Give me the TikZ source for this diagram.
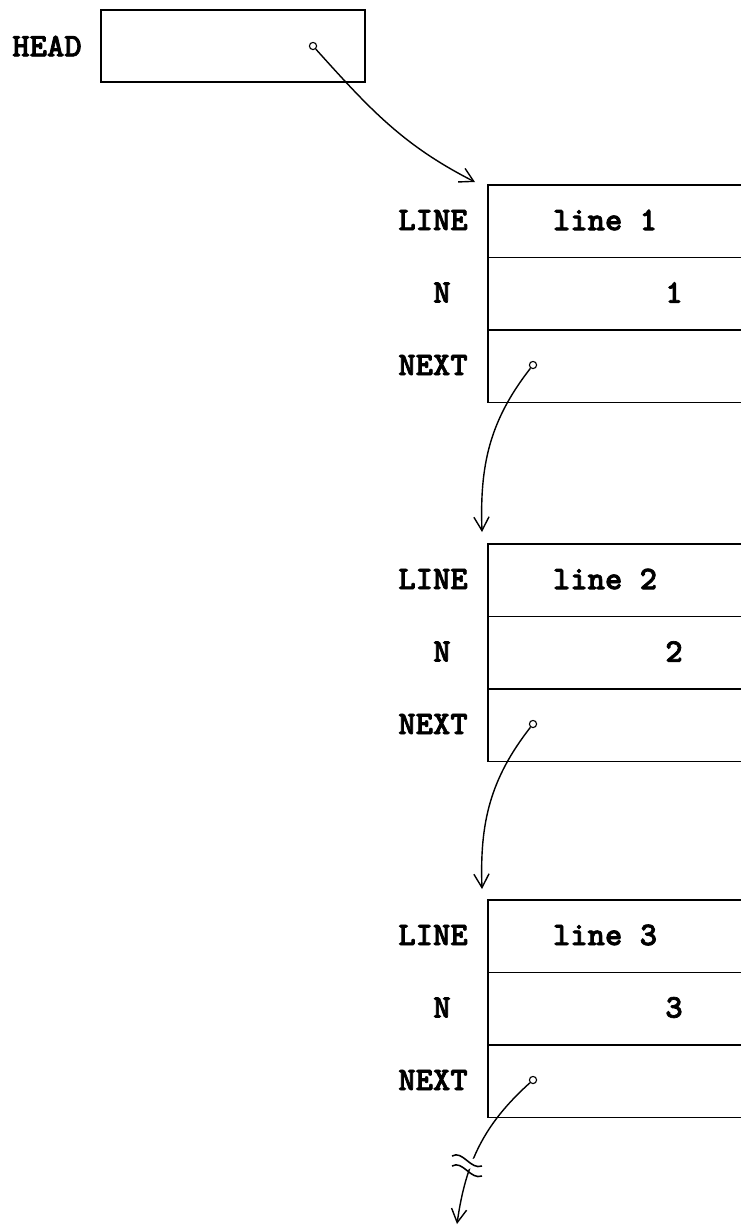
\documentclass[tikz,border=0pt]{standalone}
\usepackage{fontspec}
\newfontfamily\recfont{lmmonolt10-bold.otf}[FakeBold=2.2]
\usetikzlibrary{arrows.meta,calc}

\begin{document}
\begin{tikzpicture}[x=0.025cm,y=-0.025cm,
 cell/.style={draw,line width=1.1pt,minimum width=7.1cm,minimum height=1.8125cm,inner sep=0pt,anchor=north west},
 lbl/.style={inner sep=0pt,font=\recfont\fontsize{23.5}{25}\selectfont},
 ptr/.style={circle,draw,line width=0.8pt,inner sep=0pt,minimum size=0.18cm,fill=white},
 link/.style={line width=1pt,-{Straight Barb[length=3.4mm,width=3.8mm,line width=1pt]}}]
\useasboundingbox (0,0) rectangle (741,1226);
\clip (0,0) rectangle (741,1226);

% head pointer
\node[draw,line width=1.1pt,minimum width=6.6cm,minimum height=1.8cm,inner sep=0pt,anchor=north west] (head) at (100,9) {};
\node[lbl] (headlbl) at (47,46) {HEAD};
\node[ptr] (hp) at (313,46) {};

% records
\foreach \i/\t in {1/184,2/543,3/899}{
 \node[cell] (line\i) at (487,\t) {};
 \node[cell] (n\i) at (487,\t+72.5) {};
 \node[cell] (next\i) at (487,\t+145) {};
 \node[lbl] (lline\i) at (433,\t+36) {LINE};
 \node[lbl] (ln\i) at (442,\t+108.5) {N};
 \node[lbl] (lnext\i) at (433,\t+181) {NEXT};
 \node[lbl] (vline\i) at (605,\t+36) {line \i};
 \node[lbl] (vn\i) at (674,\t+108.5) {\i};
 \node[ptr] (p\i) at (533,\t+181) {};
}

% links
\draw[link] (hp) to[out=-48,in=153] ($(line1.north west)+(-12,-2)$);
\draw[link] (p1) to[out=-128,in=92] ($(line2.north west)+(-5,-11)$);
\draw[link] (p2) to[out=-128,in=92] ($(line3.north west)+(-5,-10)$);

% last link, broken
\coordinate (brk) at (468,1165);
\coordinate (tail) at (457,1224);
\draw[link] (p3) to[out=-138,in=82] (tail);
\fill[white,rotate around={20:(brk)}] ($(brk)+(-17,-4)$) rectangle ($(brk)+(17,4)$);
\draw[line width=1.1pt] ($(brk)+(-16,-9)$) to[out=30,in=200] ($(brk)+(14,1)$);
\draw[line width=1.1pt] ($(brk)+(-16,1)$) to[out=30,in=200] ($(brk)+(14,11)$);
\end{tikzpicture}
\end{document}
